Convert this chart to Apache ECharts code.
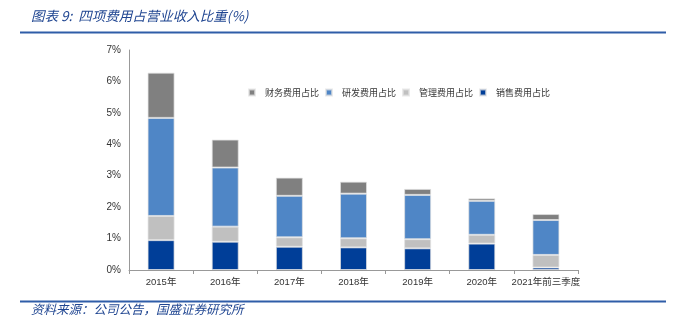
<!DOCTYPE html>
<html>
<head>
<meta charset="utf-8">
<script src="https://cdn.jsdelivr.net/npm/echarts@6/dist/echarts.min.js"></script>
<style>
html,body{margin:0;padding:0;background:#fff;}
#chart{width:674px;height:324px;}
</style>
</head>
<body>
<div id="chart"></div>
<script>
const categories = ['2015年','2016年','2017年','2018年','2019年','2020年','2021年前三季度'];
const salesRatio   = [0.95, 0.90, 0.74, 0.72, 0.69, 0.84, 0.08];
const adminRatio   = [0.77, 0.48, 0.30, 0.29, 0.29, 0.28, 0.40];
const rdRatio      = [3.12, 1.88, 1.32, 1.42, 1.41, 1.08, 1.11];
const financeRatio = [1.44, 0.89, 0.58, 0.38, 0.19, 0.08, 0.19];
const yTicks = [0, 1, 2, 3, 4, 5, 6, 7];

const FONT = '"Liberation Sans", "Noto Sans CJK SC", sans-serif';
const CJK = '"Noto Sans CJK SC", sans-serif';
const chart = echarts.init(document.getElementById('chart'), null, {renderer:'canvas'});
const barBorder = {borderColor:'rgba(225,225,225,0.7)', borderWidth:1};

chart.setOption({
  animation:false,
  backgroundColor:'#fff',
  grid:{left:129, right:96, top:50, bottom:54},
  legend:{
    left:243, top:83,
    itemWidth:6, itemHeight:6, itemGap:6,
    icon:'rect',
    data:['财务费用占比','研发费用占比','管理费用占比','销售费用占比'],
    textStyle:{fontSize:9, color:'#333', fontFamily:CJK, padding:[0,0,0,5]}
  },
  xAxis:{
    type:'category', data:categories,
    axisLine:{lineStyle:{color:'#999', width:1}},
    axisTick:{show:true, length:4, lineStyle:{color:'#999'}},
    axisLabel:{fontSize:9.5, color:'#333', fontFamily:FONT, margin:8, interval:0}
  },
  yAxis:{
    type:'value', min:yTicks[0], max:yTicks[yTicks.length-1], interval:1,
    axisLine:{show:true, lineStyle:{color:'#999', width:1}},
    axisTick:{show:false},
    splitLine:{show:false},
    axisLabel:{fontSize:10, color:'#333', fontFamily:FONT, margin:8, formatter:'{value}%'}
  },
  series:[
    {name:'销售费用占比', type:'bar', stack:'a', barWidth:27, data:salesRatio, itemStyle:Object.assign({color:'#003E98'}, barBorder)},
    {name:'管理费用占比', type:'bar', stack:'a', barWidth:27, data:adminRatio, itemStyle:Object.assign({color:'#C0C0C0'}, barBorder)},
    {name:'研发费用占比', type:'bar', stack:'a', barWidth:27, data:rdRatio, itemStyle:Object.assign({color:'#4F86C6'}, barBorder)},
    {name:'财务费用占比', type:'bar', stack:'a', barWidth:27, data:financeRatio, itemStyle:Object.assign({color:'#808080'}, barBorder)}
  ],
  graphic:[
    {type:'text', left:31, top:9, style:{text:'图表 9:  四项费用占营业收入比重(%)', fontSize:13.5, fontStyle:'italic', fill:'#1F4591', fontFamily:CJK}},
    {type:'rect', shape:{x:20, y:31.5, width:646, height:2}, style:{fill:'#2F5DA8'}},
    {type:'rect', shape:{x:20, y:300.5, width:646, height:2}, style:{fill:'#2F5DA8'}},
    {type:'text', left:31, top:303, style:{text:'资料来源：公司公告，国盛证券研究所', fontSize:12.5, fontStyle:'italic', fill:'#1F4591', fontFamily:CJK}}
  ]
});
</script>
</body>
</html>
